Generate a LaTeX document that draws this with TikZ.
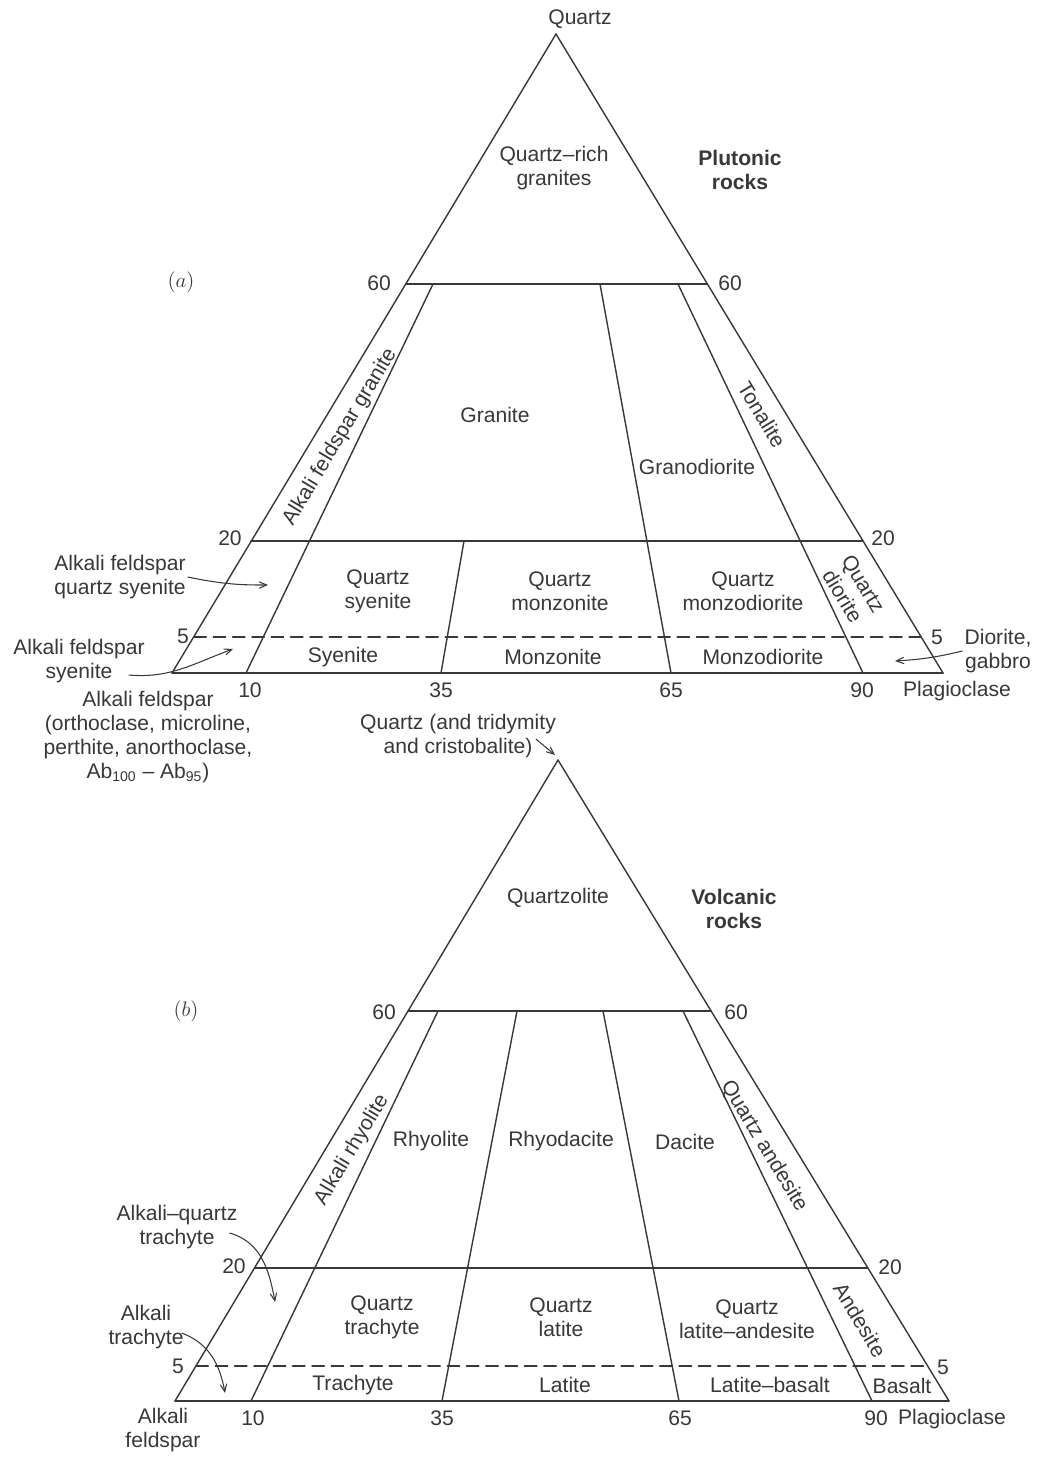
\documentclass[tikz,border=0pt]{standalone}
\usepackage{fontspec}
\setmainfont{Liberation Sans}
\usepackage{tkz-euclide}
\usetikzlibrary{arrows,calc}
\definecolor{InkClr}{rgb}{0.22,0.22,0.22}

\begin{document}
\begin{tikzpicture}[x=.02cm,y=.02cm,
  txt/.style={font=\fontsize{12}{13.8}\selectfont,text=InkClr,align=center,inner sep=1pt},
  rock/.style={txt,font=\fontsize{12}{13.8}\selectfont\bfseries},
  leader/.style={->,>=angle 45,line width=0.6pt,color=InkClr}]
\useasboundingbox (0,0) rectangle (1037,-1458);
\tkzSetUpLine[line width=0.8pt,color=InkClr]

% (a) plutonic rocks
\tkzDefPoints{556/-34/Qa,172/-673/Fa,943/-673/Pa}
\tkzDefPoints{406/-284/La60,707/-284/Ra60,251/-541/La20,863/-541/Ra20,194/-637/La5,921/-637/Ra5}
\tkzDefPoints{246/-673/a10b,433/-284/a10t,441/-673/a35b,464/-541/a35t,671/-673/a65b,600/-284/a65t,863/-673/a90b,678/-284/a90t}

\tkzDrawSegments(Qa,Fa Qa,Pa Fa,Pa La60,Ra60 La20,Ra20)
\tkzDrawSegments(a10b,a10t a35b,a35t a65b,a65t a90b,a90t)
\tkzDrawSegments[dashed,dash pattern=on 7pt off 4pt](La5,Ra5)

\node[txt] (qzA) at (580,-19) {Quartz};
\node[txt] (qrg) at (554,-168) {Quartz--rich\\granites};
\node[rock] (plu) at (740,-170) {Plutonic\\rocks};
\node[txt] (capA) at (181,-282) {$(a)$};
\node[txt] (a60l) at (379,-283) {60};
\node[txt] (a60r) at (730,-283) {60};
\node[txt,rotate=59] (afg) at (340,-437) {Alkali feldspar granite};
\node[txt] (gra) at (495,-415) {Granite};
\node[txt] (gdi) at (697,-467) {Granodiorite};
\node[txt,rotate=-59] (ton) at (762,-415) {Tonalite};
\node[txt] (a20l) at (230,-538) {20};
\node[txt] (a20r) at (883,-538) {20};
\node[txt] (afqs) at (120,-577) {Alkali feldspar\\quartz syenite};
\node[txt] (qsy) at (378,-591) {Quartz\\syenite};
\node[txt] (qmz) at (560,-591) {Quartz\\monzonite};
\node[txt] (qmd) at (743,-591) {Quartz\\monzodiorite};
\node[txt,rotate=-59] (qdi) at (853,-590) {Quartz\\diorite};
\node[txt] (a5l) at (183,-636) {5};
\node[txt] (a5r) at (937,-637) {5};
\node[txt] (afs) at (79,-661) {Alkali feldspar\\syenite};
\node[txt] (sye) at (343,-657) {Syenite};
\node[txt] (mzn) at (553,-657) {Monzonite};
\node[txt] (mzd) at (763,-657) {Monzodiorite};
\node[txt] (dga) at (998,-651) {Diorite,\\gabbro};
\node[txt] (a10) at (250,-690) {10};
\node[txt] (a35) at (441,-690) {35};
\node[txt] (a65) at (671,-690) {65};
\node[txt] (a90) at (862,-690) {90};
\node[txt] (plA) at (957,-691) {Plagioclase};
\node[txt] (afA) at (148,-737) {Alkali feldspar\\(orthoclase, microline,\\perthite, anorthoclase,\\Ab\textsubscript{100} -- Ab\textsubscript{95})};

\coordinate (afqsTip) at (268,-585);
\coordinate (afsTip) at (233,-649);
\coordinate (dgaTip) at (895,-661);
\draw[leader] (afqs.east) to[bend right=6] (afqsTip);
\draw[leader] ($(afs.east)+(-18,-14)$) to[out=-5,in=200] (afsTip);
\draw[leader] (dga.west) to[bend left=5] (dgaTip);

% (b) volcanic rocks
\tkzDefPoints{558/-760/Qb,175/-1401/Fb,949/-1401/Pb}
\tkzDefPoints{408/-1011/Lb60,711/-1011/Rb60,255/-1268/Lb20,868/-1268/Rb20,196/-1366/Lb5,928/-1366/Rb5}
\tkzDefPoints{251/-1401/b10b,438/-1011/b10t,442/-1401/b35b,517/-1011/b35t,679/-1401/b65b,603/-1011/b65t,872/-1401/b90b,683/-1011/b90t}

\tkzDrawSegments(Qb,Fb Qb,Pb Fb,Pb Lb60,Rb60 Lb20,Rb20)
\tkzDrawSegments(b10b,b10t b35b,b35t b65b,b65t b90b,b90t)
\tkzDrawSegments[dashed,dash pattern=on 7pt off 4pt](Lb5,Rb5)

\node[txt] (qtc) at (458,-736) {Quartz (and tridymity\\and cristobalite)};
\node[txt] (qzl) at (558,-898) {Quartzolite};
\node[rock] (vol) at (734,-909) {Volcanic\\rocks};
\node[txt] (capB) at (186,-1011) {$(b)$};
\node[txt] (b60l) at (384,-1012) {60};
\node[txt] (b60r) at (736,-1012) {60};
\node[txt,rotate=59] (arh) at (352,-1150) {Alkali rhyolite};
\node[txt] (rhy) at (431,-1141) {Rhyolite};
\node[txt] (rhd) at (561,-1141) {Rhyodacite};
\node[txt] (dac) at (685,-1142) {Dacite};
\node[txt,rotate=-59] (qan) at (764,-1146) {Quartz andesite};
\node[txt] (aqt) at (177,-1227) {Alkali--quartz\\trachyte};
\node[txt] (b20l) at (234,-1266) {20};
\node[txt] (b20r) at (890,-1267) {20};
\node[txt] (qtr) at (382,-1317) {Quartz\\trachyte};
\node[txt] (qla) at (561,-1317) {Quartz\\latite};
\node[txt] (qlan) at (747,-1319) {Quartz\\latite--andesite};
\node[txt,rotate=-59] (and) at (860,-1320) {Andesite};
\node[txt] (atr) at (146,-1327) {Alkali\\trachyte};
\node[txt] (b5l) at (178,-1366) {5};
\node[txt] (b5r) at (943,-1367) {5};
\node[txt] (tra) at (353,-1385) {Trachyte};
\node[txt] (lat) at (565,-1385) {Latite};
\node[txt] (lba) at (770,-1385) {Latite--basalt};
\node[txt] (bas) at (902,-1386) {Basalt};
\node[txt] (afB) at (163,-1430) {Alkali\\feldspar};
\node[txt] (b10) at (253,-1418) {10};
\node[txt] (b35) at (442,-1418) {35};
\node[txt] (b65) at (680,-1418) {65};
\node[txt] (b90) at (876,-1418) {90};
\node[txt] (plB) at (952,-1419) {Plagioclase};

\coordinate (qtcTip) at (555,-755);
\coordinate (aqtTip) at (275,-1302);
\coordinate (atrTip) at (225,-1393);
\draw[leader] ($(qtc.east)+(-22,-3)$) -- (qtcTip);
\draw[leader] ($(aqt.east)+(-10,-6)$) to[out=-15,in=100] (aqtTip);
\draw[leader] ($(atr.east)+(-4,-6)$) to[out=-20,in=100] (atrTip);

\end{tikzpicture}
\end{document}
